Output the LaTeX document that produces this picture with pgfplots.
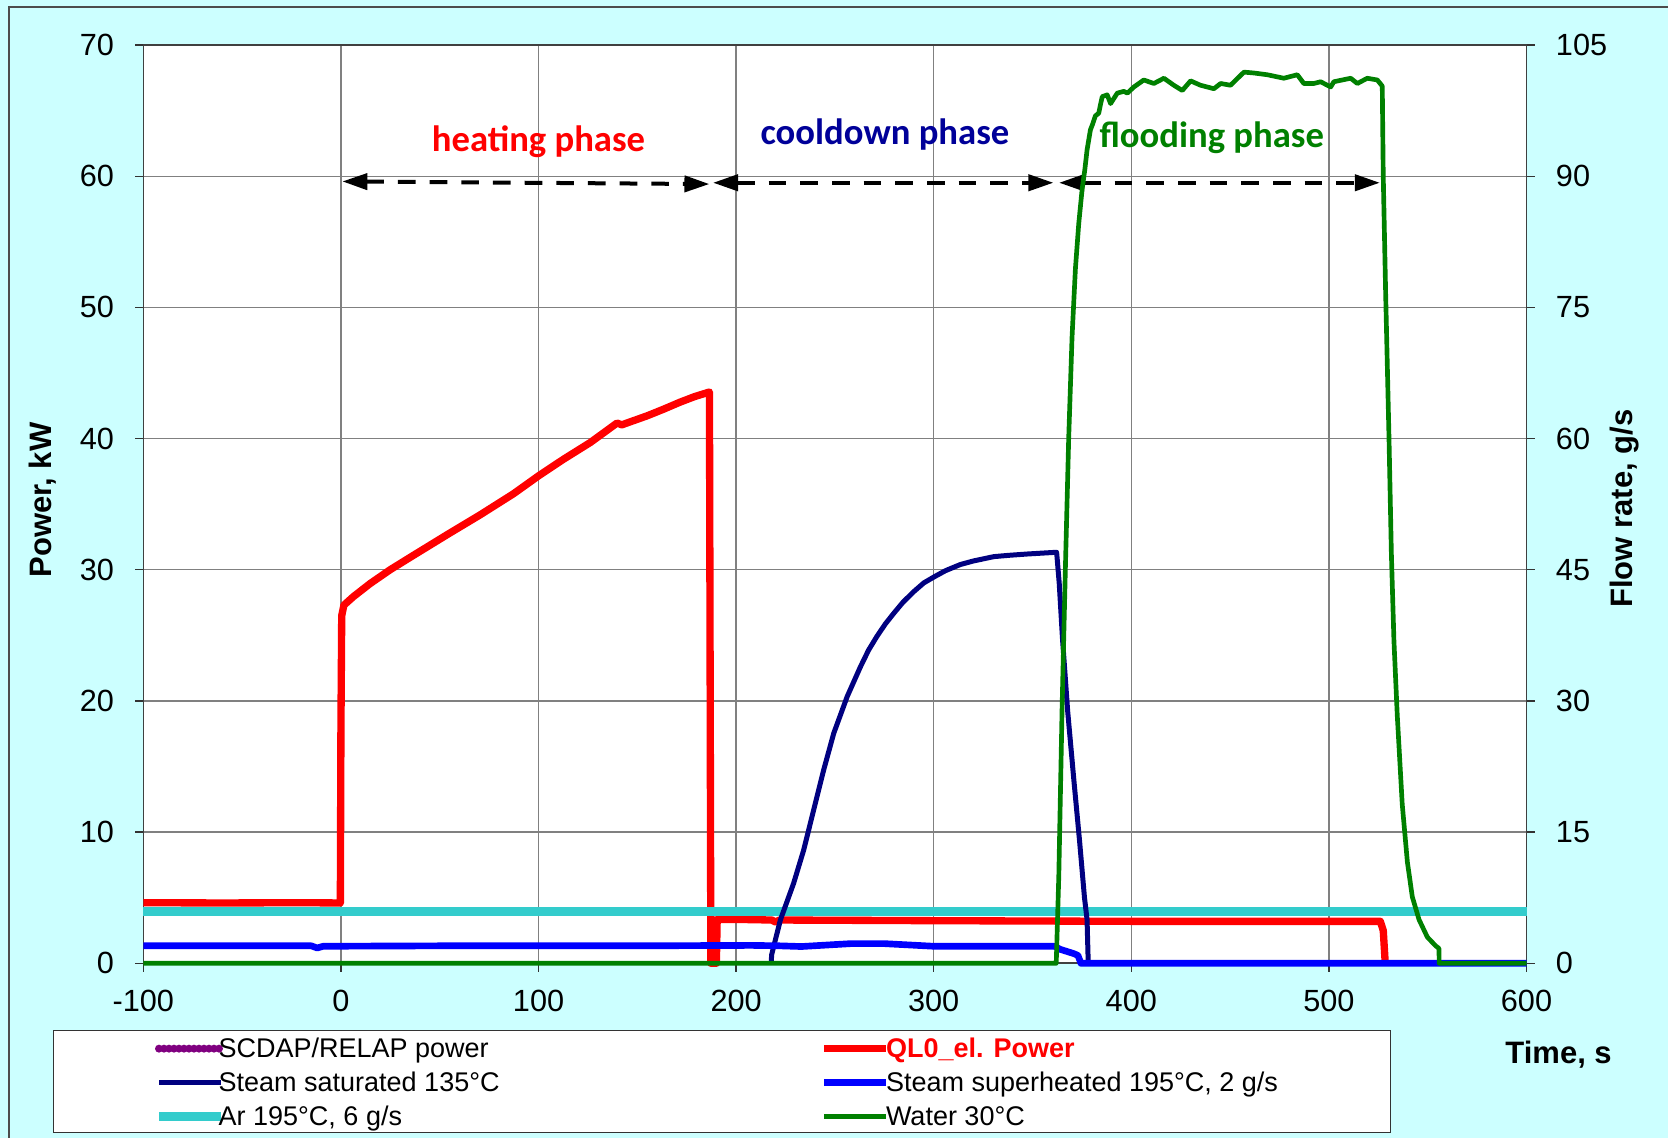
\documentclass[border=0pt]{standalone}
\usepackage{fontspec}
\setmainfont{Liberation Sans}
\newfontfamily\calibri{Carlito}
\usepackage{pgfplots}
\pgfplotsset{compat=1.18}
\usetikzlibrary{arrows.meta}

\definecolor{bgcyan}{HTML}{CCFFFF}
\definecolor{qlred}{HTML}{FF0000}
\definecolor{satnavy}{HTML}{000080}
\definecolor{supblue}{HTML}{0000FF}
\definecolor{arcyan}{HTML}{33CCCC}
\definecolor{watergreen}{HTML}{008000}
\definecolor{scdappurple}{HTML}{800080}
\definecolor{cooltext}{HTML}{000099}
\definecolor{gridgray}{HTML}{808080}

\pgfplotsset{
  chartbase/.style={
    at={(43.0pt,52.4pt)}, anchor=south west,
    scale only axis, width=414.96pt, height=275.49pt,
    xmin=-100, xmax=600, clip=false,
    tick align=outside, major tick length=2.5pt,
    every tick/.style={black!80, line width=0.4pt},
    /pgf/number format/assume math mode=true,
    tick label style={font=\fontsize{9.2}{11}\selectfont},
    label style={font=\fontsize{9.3}{11}\selectfont\bfseries},
    axis line style={black!75, line width=0.5pt},
  },
}
\tikzset{
  phasearrow/.style={black, line width=1.2pt, dash pattern=on 5.3pt off 4.2pt,
    {Triangle[length=7.5pt,width=4.8pt]}-{Triangle[length=7.5pt,width=4.8pt]}},
  phaselabel/.style={anchor=base, font=\calibri\fontsize{11}{13}\selectfont\bfseries},
}
% legend text cells of fixed width, pulled against the line sample
\newcommand\legL[1]{\makebox[178.6pt][l]{\hspace*{-1.9pt}#1}}
\newcommand\legR[1]{\makebox[120pt][l]{\hspace*{-1.0pt}#1}}

\begin{document}
\begin{tikzpicture}
\fill[bgcyan] (0,0) rectangle (500.4pt,341.4pt);
\draw[black!70, line width=0.5pt] (2.7pt,0) -- (2.7pt,339.3pt) -- (500.4pt,339.3pt);

% power axis (left)
\begin{axis}[chartbase,
  ymin=0, ymax=70,
  xtick={-100,0,...,600}, ytick={0,10,...,70},
  tick pos=left,
  axis background/.style={fill=white},
  grid=major, grid style={gridgray, line width=0.4pt},
  xlabel={Time, s}, ylabel={Power, kW},
  xlabel style={at={(axis description cs:1.0232,-0.0995)}, anchor=center},
  ylabel style={at={(axis description cs:-0.0725,0.5045)}, anchor=center},
  yticklabel style={xshift=-2.8pt},
  xticklabel style={yshift=-2pt},
]
% QL0 electrical power, kW
\addplot[qlred, line width=2.2pt, line join=round] coordinates {
 (-100,4.62) (-60,4.60) (-20,4.62) (-0.3,4.60) (0,18) (0.4,26.5) (1.5,27.3)
 (6.3,27.95) (14.8,28.95) (24.9,30.0) (36.7,31.1) (53.6,32.66) (70.5,34.19)
 (87.3,35.79) (100.4,37.2) (112.7,38.43) (126.2,39.7) (139.7,41.18) (142.2,41.05)
 (154.9,41.73) (163.3,42.24) (171.7,42.78) (179,43.2) (186.5,43.55) (187.2,0) (190,0)
 (190.4,3.35) (200,3.35) (218,3.3) (220,3.15) (222,3.3) (300,3.25) (400,3.2)
 (500,3.2) (526,3.2) (527.5,2.5) (528.5,0)
};
% phase annotations
\draw[phasearrow] (axis cs:0.7,59.6) -- (axis cs:186.5,59.4);
\draw[phasearrow] (axis cs:188.3,59.5) -- (axis cs:360.6,59.5);
\draw[phasearrow] (axis cs:363.4,59.5) -- (axis cs:525.8,59.5);
\node[phaselabel, text=qlred] at (axis cs:100.0,61.86) {heating phase};
\node[phaselabel, text=cooltext] at (axis cs:275.3,62.42) {cooldown phase};
\node[phaselabel, text=watergreen] at (axis cs:440.7,62.18) {flooding phase};
\end{axis}

% flow rate axis (right)
\begin{axis}[chartbase,
  ymin=0, ymax=105, ytick={0,15,...,105},
  axis x line=none, axis y line*=right,
  ylabel={Flow rate, g/s},
  ylabel style={at={(axis description cs:1.0707,0.495)}, anchor=center},
  yticklabel style={xshift=2.8pt},
  legend columns=2,
  legend cell align=left,
  legend style={at={(-0.0653,-0.0726)}, anchor=north west,
    draw=black!80, fill=white,
    inner xsep=30.3pt, inner ysep=0pt,
    /tikz/column sep=0pt, /tikz/row sep=0pt,
    nodes={inner sep=0pt, text height=8.2pt, text depth=2pt,
      font=\fontsize{8.1}{9}\selectfont}},
  legend image code/.code={\draw[#1] (0pt,-0.3pt) -- (18.5pt,-0.3pt);},
]
\addlegendimage{scdappurple, line width=2.4pt, line cap=round, dash pattern=on 0pt off 1.5pt}
\addlegendentry{\legL{SCDAP/RELAP power}}
\addlegendimage{qlred, line width=2.2pt}
\addlegendentry{\legR{\textcolor{qlred}{\bfseries QL0\_el. Power}}}
\addlegendimage{satnavy, line width=1.5pt}
\addlegendentry{\legL{Steam saturated 135°C}}
\addlegendimage{supblue, line width=2.0pt}
\addlegendentry{\legR{Steam superheated 195°C, 2 g/s}}
\addlegendimage{arcyan, line width=2.6pt}
\addlegendentry{\legL{Ar 195°C, 6 g/s}}
\addlegendimage{watergreen, line width=1.4pt}
\addlegendentry{\legR{Water 30°C}}

% Ar 195 C, g/s
\addplot[arcyan, line width=2.6pt, forget plot] coordinates {
 (-100,5.95) (100,5.95) (300,5.95) (600,5.95)
};
% steam saturated, g/s
\addplot[satnavy, line width=1.5pt, line join=round, forget plot] coordinates {
 (217.7,0) (218,1.0) (222.4,4.96) (229.1,9.15) (234.2,12.96) (239.2,17.5)
 (244.3,22.1) (249.4,26.3) (256.2,30.5) (262.9,33.9) (267,35.8) (271.3,37.4)
 (275.5,38.8) (279.7,40.0) (284.5,41.3) (289.9,42.5) (295,43.5) (300.3,44.2)
 (306,44.9) (313.5,45.6) (320,46.0) (330.4,46.5) (338,46.65) (347.3,46.8) (362.2,47.0)
 (363.5,43.5) (365.2,37.0) (367.8,28.8) (370.9,21.0) (373.8,14.0) (376.3,7.5)
 (377.6,5.0) (378.2,0)
};
% steam superheated, g/s
\addplot[supblue, line width=2.0pt, line join=round, forget plot] coordinates {
 (-100,2.0) (-60,2.0) (-15,2.0) (-12,1.75) (-9,1.95) (50,2.0) (150,2.0)
 (208,2.05) (222,2.0) (233,1.92) (258,2.25) (275,2.25) (300,1.95) (361,1.95)
 (364,1.6) (371,1.1) (373,0.9) (374.5,0) (600,0)
};
% water 30 C, g/s
\addplot[watergreen, line width=1.4pt, line join=round, forget plot] coordinates {
 (-100,0) (362,0) (363.3,10) (365.0,29.6) (366.7,45.8) (368.3,60) (370.0,71.6)
 (371.7,79.4) (373.4,84.6) (375.1,88.5) (376.5,90.8) (377.6,93.0) (379.3,95.3)
 (380.5,96.0) (381.8,96.9) (383.5,97.2) (384.4,98.2) (385.3,99.1) (387.8,99.3)
 (389.5,98.3) (392.9,99.5) (396.2,99.7) (398,99.5) (401.3,100.2) (406.3,101.0)
 (411.4,100.6) (416.5,101.2) (421.5,100.4) (425.8,99.8) (430,100.9) (435,100.4)
 (441.8,100.0) (445.2,100.6) (450.2,100.4) (457,101.9) (462,101.8) (468.8,101.6)
 (477.2,101.2) (484,101.6) (487.3,100.6) (492.4,100.6) (495.8,100.8) (500.9,100.2)
 (502.5,100.8) (511,101.2) (514.4,100.6) (519.4,101.2) (524.5,101.0) (527,100.3)
 (527.5,90) (528.7,76.7) (530.4,60.1) (531.6,46.9) (532.9,36.9) (534.6,28.3)
 (537.1,18.2) (539.7,11.6) (542.2,7.6) (545.6,5.0) (549.8,3.0) (554.0,2.0)
 (555.7,1.7) (555.8,0) (600,0)
};
\end{axis}

\pgfresetboundingbox
\path[use as bounding box] (0,0) rectangle (500.4pt,341.4pt);
\end{tikzpicture}
\end{document}
